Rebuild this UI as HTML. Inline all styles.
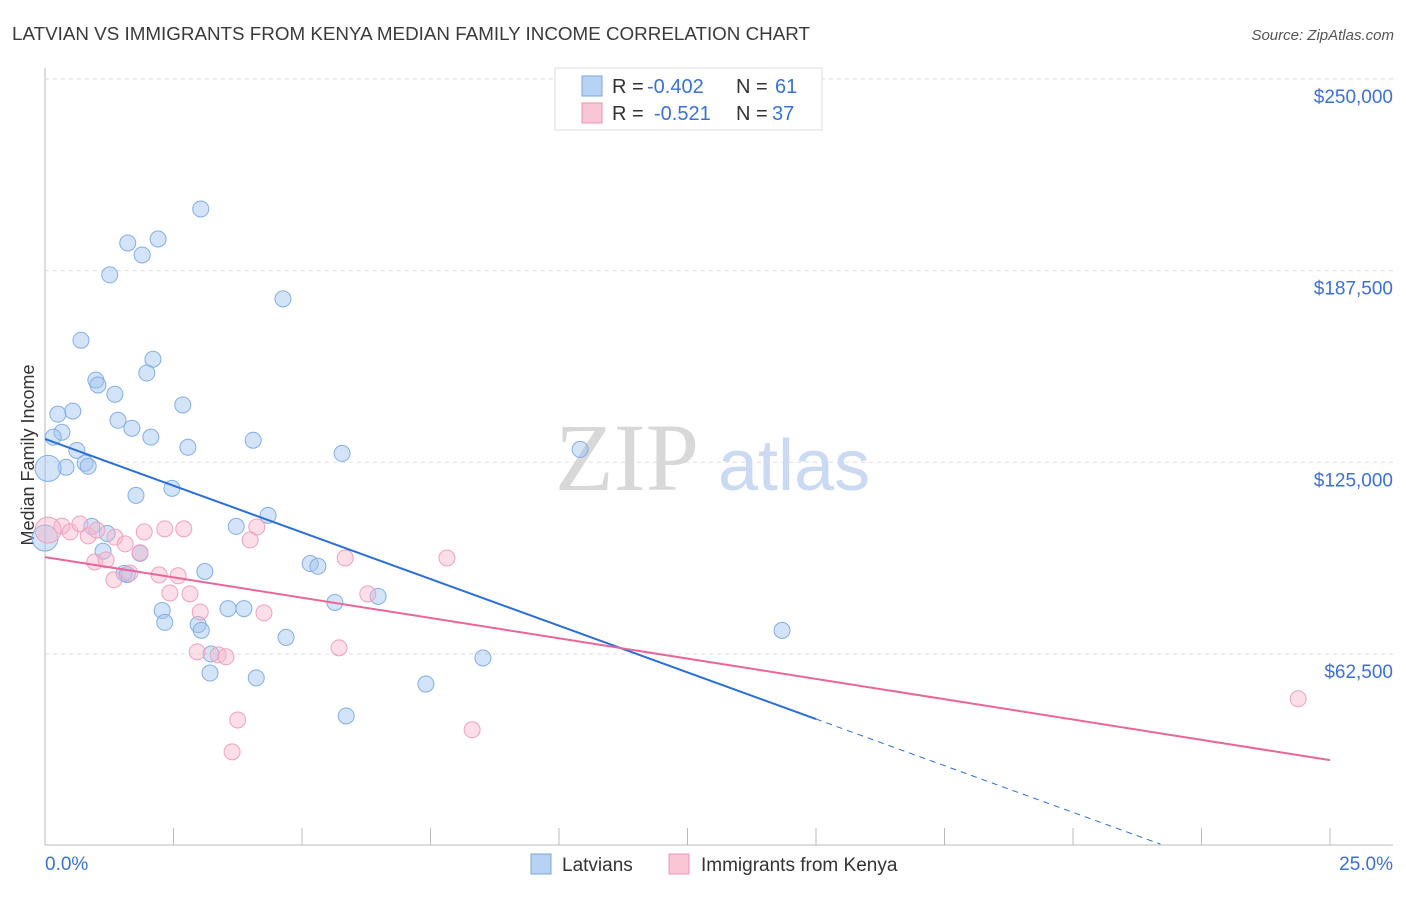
<!DOCTYPE html>
<html><head><meta charset="utf-8"><style>
body{margin:0;background:#fff;font-family:"Liberation Sans",sans-serif;}
</style></head><body>
<svg id="chart" width="1406" height="892" xmlns="http://www.w3.org/2000/svg" font-family="Liberation Sans, sans-serif">
<text x="12" y="40" font-size="18" fill="#3a3a3a" textLength="798" lengthAdjust="spacingAndGlyphs">LATVIAN VS IMMIGRANTS FROM KENYA MEDIAN FAMILY INCOME CORRELATION CHART</text>
<text x="1394" y="40" font-size="15" fill="#555" text-anchor="end" font-style="italic">Source: ZipAtlas.com</text>
<g id="grid"></g>
<g>
<text x="555" y="490" font-size="96" fill="#d8d8d8" font-family="Liberation Serif, serif">ZIP</text>
<text x="718" y="490" font-size="72" fill="#c9daf2">atlas</text>
</g>
<text transform="translate(34,455) rotate(-90)" font-size="18" fill="#333" text-anchor="middle">Median Family Income</text>
<g id="marks"></g>
<g>
<rect x="555" y="68" width="267" height="62" fill="#fff" stroke="#ddd"/>
<rect x="582" y="76" width="20" height="20" fill="#b8d2f4" stroke="#7aa7e0"/>
<rect x="582" y="103" width="20" height="20" fill="#f9c6d6" stroke="#eb94b2"/>
<text x="612" y="93" font-size="20" fill="#333">R =</text>
<text x="647" y="93" font-size="20" fill="#3a72d4">-0.402</text>
<text x="736" y="93" font-size="20" fill="#333">N =</text>
<text x="775" y="93" font-size="20" fill="#3a72d4">61</text>
<text x="612" y="120" font-size="20" fill="#333">R =</text>
<text x="654" y="120" font-size="20" fill="#3a72d4">-0.521</text>
<text x="736" y="120" font-size="20" fill="#333">N =</text>
<text x="772" y="120" font-size="20" fill="#3a72d4">37</text>
</g>
<g>
<rect x="531" y="854" width="20" height="20" fill="#b8d2f4" stroke="#7aa7e0"/>
<text x="562" y="871" font-size="19" fill="#333">Latvians</text>
<rect x="669" y="854" width="20" height="20" fill="#f9c6d6" stroke="#eb94b2"/>
<text x="701" y="871" font-size="19" fill="#333">Immigrants from Kenya</text>
</g>
</svg>
<script>
const xTicks=[0,2.5,5,7.5,10,12.5,15,17.5,20,22.5,25];
const yTicks=[62500,125000,187500,250000];
const yTickLabels=["$62,500","$125,000","$187,500","$250,000"];
const latX=[3.03,2.20,1.61,1.89,1.26,4.63,0.70,2.10,1.98,0.99,1.03,1.36,2.68,0.54,0.25,1.42,1.69,0.33,0.16,2.06,4.05,0.62,2.78,5.78,10.41,0.78,0.84,0.41,0.06,2.47,1.77,4.34,3.72,0.91,1.21,1.13,1.85,5.16,5.31,3.11,1.54,1.60,6.48,5.64,2.28,3.56,3.87,2.33,2.98,3.04,14.34,4.69,3.23,8.52,3.21,4.11,7.41,5.86,0];
const latY=[207600,197800,196500,192600,186100,178300,164800,158600,154100,151800,150200,147200,143700,141700,140700,138700,136100,134800,133200,133200,132200,128900,129900,127900,129200,124700,123700,123400,123000,116500,114200,107700,104100,104100,101800,96000,95300,92000,91100,89400,88800,88400,81300,79300,76700,77300,77300,72800,72100,70200,70200,67900,62500,61200,56300,54700,52700,42300,100300];
const latBig=[28,58];
const kenX=[0.33,0.49,0.68,0.84,1.01,1.36,1.56,1.93,2.33,2.70,4.12,3.99,0.97,1.19,1.85,1.34,1.65,2.22,2.59,5.84,7.82,2.43,2.82,3.02,4.26,6.28,2.96,3.37,3.52,5.72,3.75,3.64,8.31,24.38,0.06];
const kenY=[104200,102300,104900,101000,102900,100600,98400,102300,103300,103300,103900,99700,92500,93200,95500,86700,88900,88300,88000,93800,93800,82400,82100,76200,75900,82100,63200,62200,61600,64500,41000,30600,37800,47900,102900];
const kenBig=[34];
const latTrend=[132600,41300];
const latTrendEnd=[15,21.7];
const kenTrend=[94100,27900];

const X=v=>45+v/25*1285;
const Y=v=>845.7-v/62500*191.7;
const NS="http://www.w3.org/2000/svg";
function mk(t,a,p){const e=document.createElementNS(NS,t);for(const k in a)e.setAttribute(k,a[k]);p.appendChild(e);return e;}
const grid=document.getElementById('grid'),marks=document.getElementById('marks');
let ax=mk('line',{x1:45,y1:845,x2:1393,y2:845,stroke:'#bbb'},grid);


let ay=mk('line',{x1:45,y1:68,x2:45,y2:845,stroke:'#bbb'},grid);


mk('line',{x1:45,y1:79,x2:1393,y2:79,stroke:'#ddd','stroke-dasharray':'4,4'},grid);
xTicks.forEach(t=>{const l=mk('line',{x1:X(t),y1:828,x2:X(t),y2:845,stroke:'#bbb'},grid);

});
yTicks.forEach((t,i)=>{const l=mk('line',{x1:45,y1:Y(t),x2:1393,y2:Y(t),stroke:'#ddd','stroke-dasharray':'4,4'},grid);


const tx=mk('text',{x:1393,y:Y(t)+24,'font-size':19,fill:'#3a72d4','text-anchor':'end'},grid);
tx.textContent=yTickLabels[i];

});
const x0=mk('text',{x:45,y:870,'font-size':19,fill:'#3a72d4'},grid);x0.textContent="0.0%";


const x1=mk('text',{x:1393,y:870,'font-size':19,fill:'#3a72d4','text-anchor':'end'},grid);x1.textContent="25.0%";


latX.forEach((v,i)=>{const c=mk('circle',{cx:X(v),cy:Y(latY[i]),r:latBig.includes(i)?13:8,fill:'rgba(160,196,240,0.45)',stroke:'#82aee6','stroke-width':1},marks);

});
kenX.forEach((v,i)=>{const c=mk('circle',{cx:X(v),cy:Y(kenY[i]),r:kenBig.includes(i)?13:8,fill:'rgba(246,182,204,0.45)',stroke:'#eda2bd','stroke-width':1},marks);

});
const ls=(latTrend[1]-latTrend[0])/latTrendEnd[0];
let t1=mk('line',{x1:X(0),y1:Y(latTrend[0]),x2:X(latTrendEnd[0]),y2:Y(latTrend[1]),stroke:'#2a6fd6','stroke-width':2},marks);


let t2=mk('line',{x1:X(latTrendEnd[0]),y1:Y(latTrend[1]),x2:X(latTrendEnd[1]),y2:Y(latTrend[0]+ls*latTrendEnd[1]),stroke:'#2a6fd6','stroke-width':1,'stroke-dasharray':'6,5'},marks);


let t3=mk('line',{x1:X(0),y1:Y(kenTrend[0]),x2:X(25),y2:Y(kenTrend[1]),stroke:'#e8669a','stroke-width':2},marks);


</script>
</body></html>
